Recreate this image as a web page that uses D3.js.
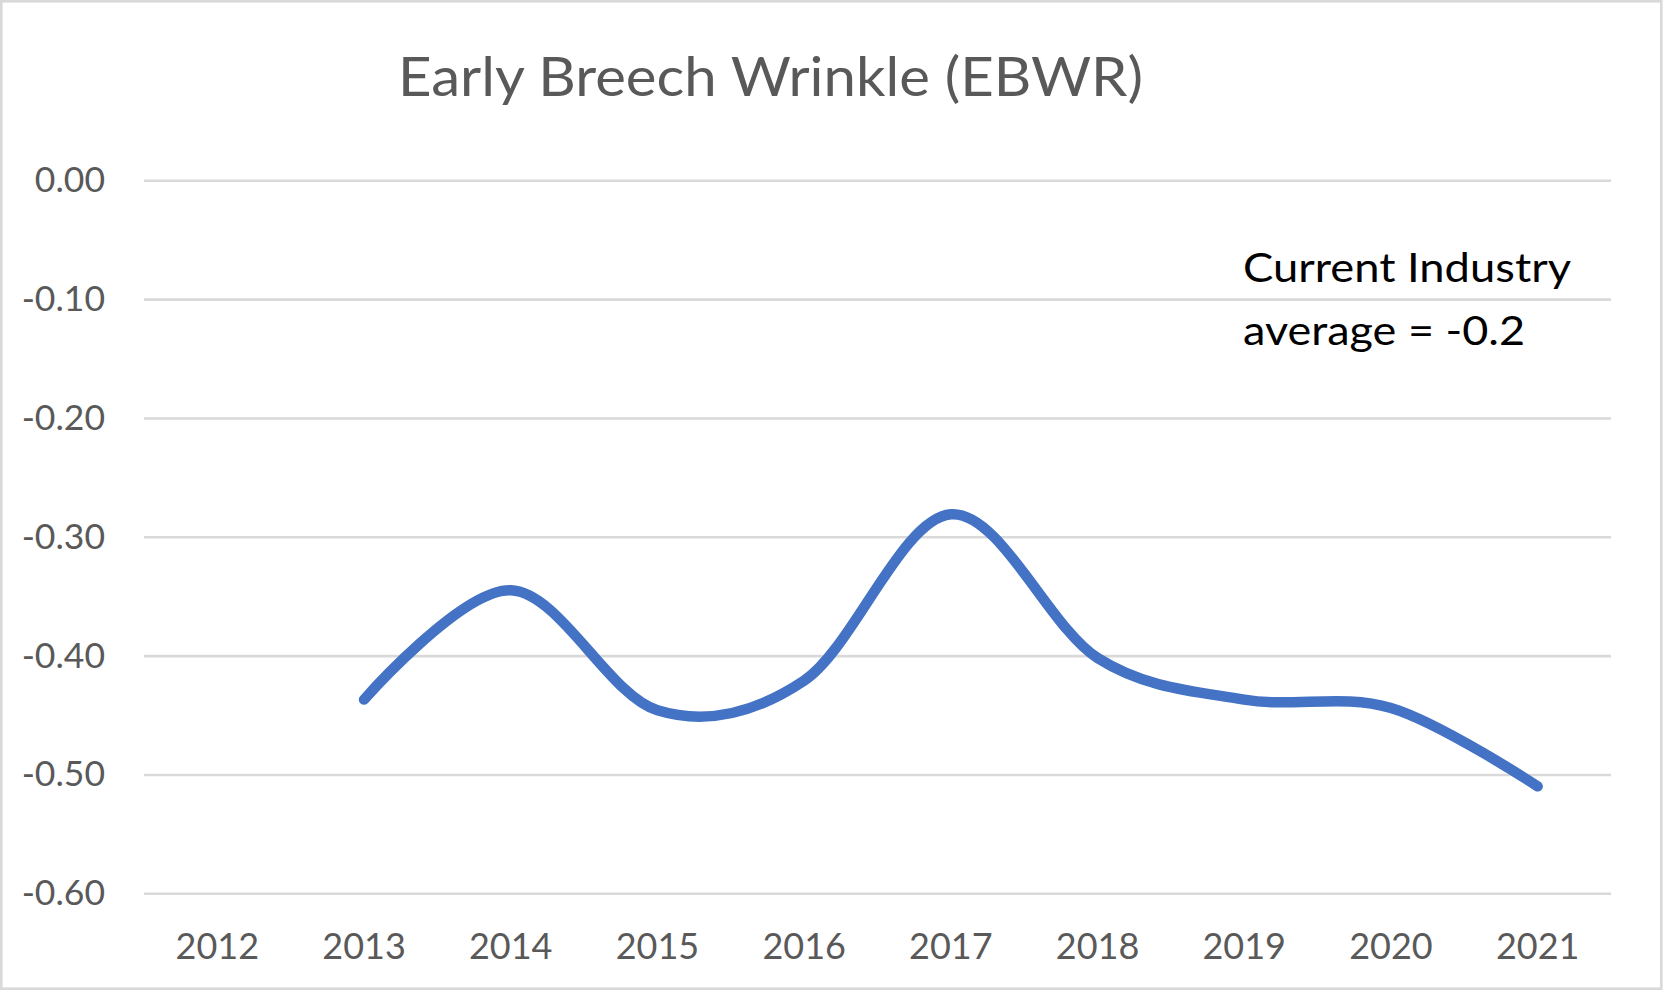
<!DOCTYPE html>
<html>
<head>
<meta charset="utf-8">
<script src="https://cdn.jsdelivr.net/npm/d3@7"></script>
<style>
  html, body { margin: 0; padding: 0; background: #fff; }
  svg { display: block; }
</style>
</head>
<body>
<svg id="chart" width="1664" height="992"></svg>
<script>
const years = ["2012","2013","2014","2015","2016","2017","2018","2019","2020","2021"];
const values = [null, -0.437, -0.345, -0.446, -0.421, -0.281, -0.402, -0.437, -0.444, -0.510];
const yTicks = [0, -0.1, -0.2, -0.3, -0.4, -0.5, -0.6];
const titleText = "Early Breech Wrinkle (EBWR)";
const noteLines = ["Current Industry", "average = -0.2"];

const svg = d3.select("#chart");
const W = 1664, H = 992;
const FONT = "Lato, 'Open Sans', sans-serif";

// outer chart border
svg.append("rect")
  .attr("x", 1.3).attr("y", 1.3)
  .attr("width", W - 4).attr("height", H - 4.6)
  .attr("fill", "#fff")
  .attr("stroke", "#D9D9D9").attr("stroke-width", 2.6);

const plot = { left: 144, right: 1611, top: 180.3, bottom: 893.3 };

const x = d3.scaleBand().domain(years).range([plot.left, plot.right]).padding(0);
const y = d3.scaleLinear().domain([-0.6, 0]).range([plot.bottom, plot.top]);

// gridlines
const grid = svg.append("g")
  .attr("transform", `translate(${plot.left},0)`)
  .call(d3.axisLeft(y).tickValues(yTicks).tickSize(-(plot.right - plot.left)).tickFormat(""));
grid.select(".domain").remove();
grid.selectAll(".tick line").attr("stroke", "#D9D9D9").attr("stroke-width", 2.6);

// y axis labels
const yAxis = svg.append("g")
  .attr("transform", `translate(105,0)`)
  .call(d3.axisLeft(y).tickValues(yTicks).tickSize(0).tickPadding(0).tickFormat(d3.format(".2f")));
yAxis.select(".domain").remove();
yAxis.selectAll(".tick text")
  .attr("fill", "#595959")
  .attr("font-family", FONT)
  .attr("font-size", 35.5)
  .attr("dy", "0.32em")
  .text(d => d === 0 ? "0.00" : d3.format(".2f")(d).replace("−", "-"));

// x axis labels
const xAxis = svg.append("g")
  .attr("transform", `translate(0,${plot.bottom})`)
  .call(d3.axisBottom(x).tickSize(0).tickPadding(0));
xAxis.select(".domain").remove();
xAxis.selectAll(".tick text")
  .attr("fill", "#595959")
  .attr("font-family", FONT)
  .attr("font-size", 36)
  .attr("dy", 0)
  .attr("y", 959 - plot.bottom);

// line
const data = years.map((yr, i) => ({ yr, v: values[i] }));
const line = d3.line()
  .defined(d => d.v !== null)
  .x(d => x(d.yr) + x.bandwidth() / 2)
  .y(d => y(d.v))
  .curve(d3.curveCardinal.tension(0));
svg.append("path")
  .datum(data)
  .attr("d", line)
  .attr("fill", "none")
  .attr("stroke", "#4472C4")
  .attr("stroke-width", 10.5)
  .attr("stroke-linecap", "round")
  .attr("stroke-linejoin", "round");

// title
svg.append("text")
  .attr("x", 398).attr("y", 96)
  .attr("font-family", FONT)
  .attr("font-size", 55)
  .attr("fill", "#595959")
  .attr("textLength", 745)
  .attr("lengthAdjust", "spacingAndGlyphs")
  .text(titleText);

// annotation
const noteLens = [328, 282];
const noteBase = [282, 345];
noteLines.forEach((t, i) => {
  svg.append("text")
    .attr("x", 1243).attr("y", noteBase[i])
    .attr("font-family", FONT)
    .attr("font-size", 41.5)
    .attr("fill", "#000")
    .attr("textLength", noteLens[i])
    .attr("lengthAdjust", "spacingAndGlyphs")
    .text(t);
});
</script>
</body>
</html>
